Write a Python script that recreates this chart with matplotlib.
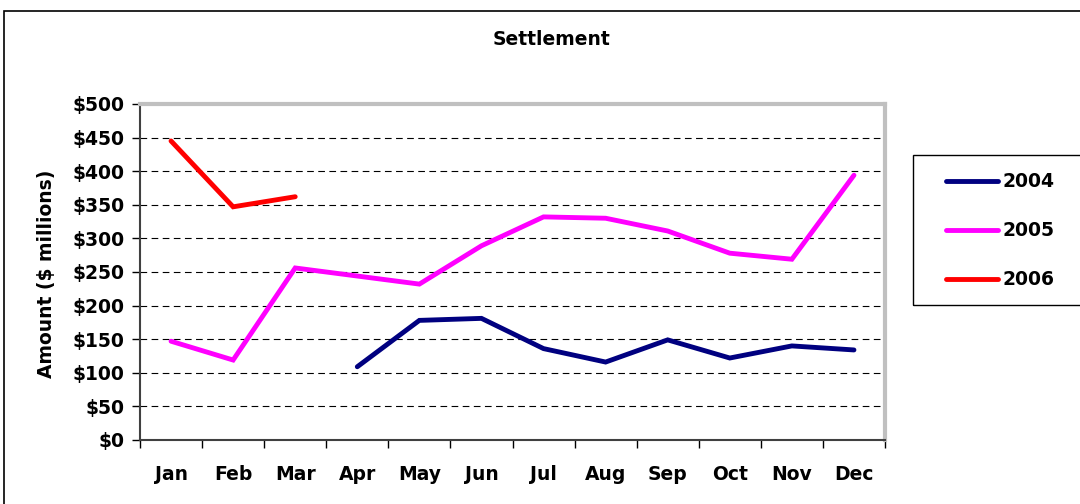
import numpy as np
import matplotlib
matplotlib.use("Agg")
import matplotlib.pyplot as plt
from matplotlib.patches import Rectangle

months = ["Jan", "Feb", "Mar", "Apr", "May", "Jun", "Jul", "Aug", "Sep", "Oct", "Nov", "Dec"]
nan = np.nan
s2004 = [nan, nan, nan, 109, 178, 181, 136, 116, 149, 122, 140, 134]
s2005 = [147, 119, 256, 244, 232, 289, 332, 330, 311, 278, 269, 394]
s2006 = [445, 347, 362, nan, nan, nan, nan, nan, nan, nan, nan, nan]
years = ["2004", "2005", "2006"]
colors = ["#000080", "#ff00ff", "#ff0000"]

plt.rcParams['font.family'] = ['DejaVu Sans']
plt.rcParams['font.weight'] = 'bold'
fs = 13.5

fig = plt.figure(figsize=(10.8, 5.04), dpi=100)
ax = fig.add_axes([140/1080, 1-440/504, 745/1080, 336/504])

x = np.arange(len(months))
for vals, yr, c in zip([s2004, s2005, s2006], years, colors):
    ax.plot(x, vals, color=c, lw=3.5, label=yr, solid_capstyle='round', solid_joinstyle='miter')

ax.set_xlim(-0.5, 11.5)
ax.set_ylim(0, 500)
yt = np.arange(0, 501, 50)
ax.set_yticks(yt)
ax.set_yticklabels(["$%d" % v for v in yt], fontsize=fs, fontweight='bold')
ax.set_xticks(x)
ax.set_xticklabels(months, fontsize=fs, fontweight='bold')
ax.set_xticks(np.arange(-0.5, 12, 1), minor=True)
ax.tick_params(axis='x', which='major', length=0, pad=18)
ax.tick_params(axis='x', which='minor', length=6, width=1, color='black', direction='out')
ax.tick_params(axis='y', length=6, width=1, direction='out', pad=5)
for v in yt[1:-1]:
    ax.axhline(v, color='black', lw=0.8, ls=(0, (6, 4)), zorder=0)

ax.spines['left'].set_color('#404040')
ax.spines['bottom'].set_color('#404040')
ax.spines['left'].set_linewidth(1.5)
ax.spines['bottom'].set_linewidth(1.5)
ax.spines['top'].set_color('#c0c0c0')
ax.spines['right'].set_color('#c0c0c0')
ax.spines['top'].set_linewidth(3)
ax.spines['right'].set_linewidth(3)

ax.set_ylabel("Amount ($ millions)", fontsize=fs, fontweight='bold')
ax.yaxis.set_label_coords(56/1080, 1-274/504, transform=fig.transFigure)
fig.text(552/1080, 1-40/504, "Settlement", ha='center', va='center', fontsize=fs, fontweight='bold')

# outer chart border
fig.patches.append(Rectangle((4/1080, -0.05), 1.1, 1-11/504 + 0.05, transform=fig.transFigure,
                             fill=False, edgecolor='black', lw=1.2, clip_on=False))
# legend box
fig.patches.append(Rectangle((913/1080, 1-305/504), 0.2, 150/504, transform=fig.transFigure,
                             fill=False, edgecolor='black', lw=1, clip_on=False))
ax.legend(loc='center left', bbox_to_anchor=(929/1080, 1-231/504), bbox_transform=fig.transFigure,
          frameon=False, handlelength=2.8, handletextpad=0.2, labelspacing=1.6,
          prop={'weight': 'bold', 'size': fs})

fig.savefig("out.png", dpi=100)
